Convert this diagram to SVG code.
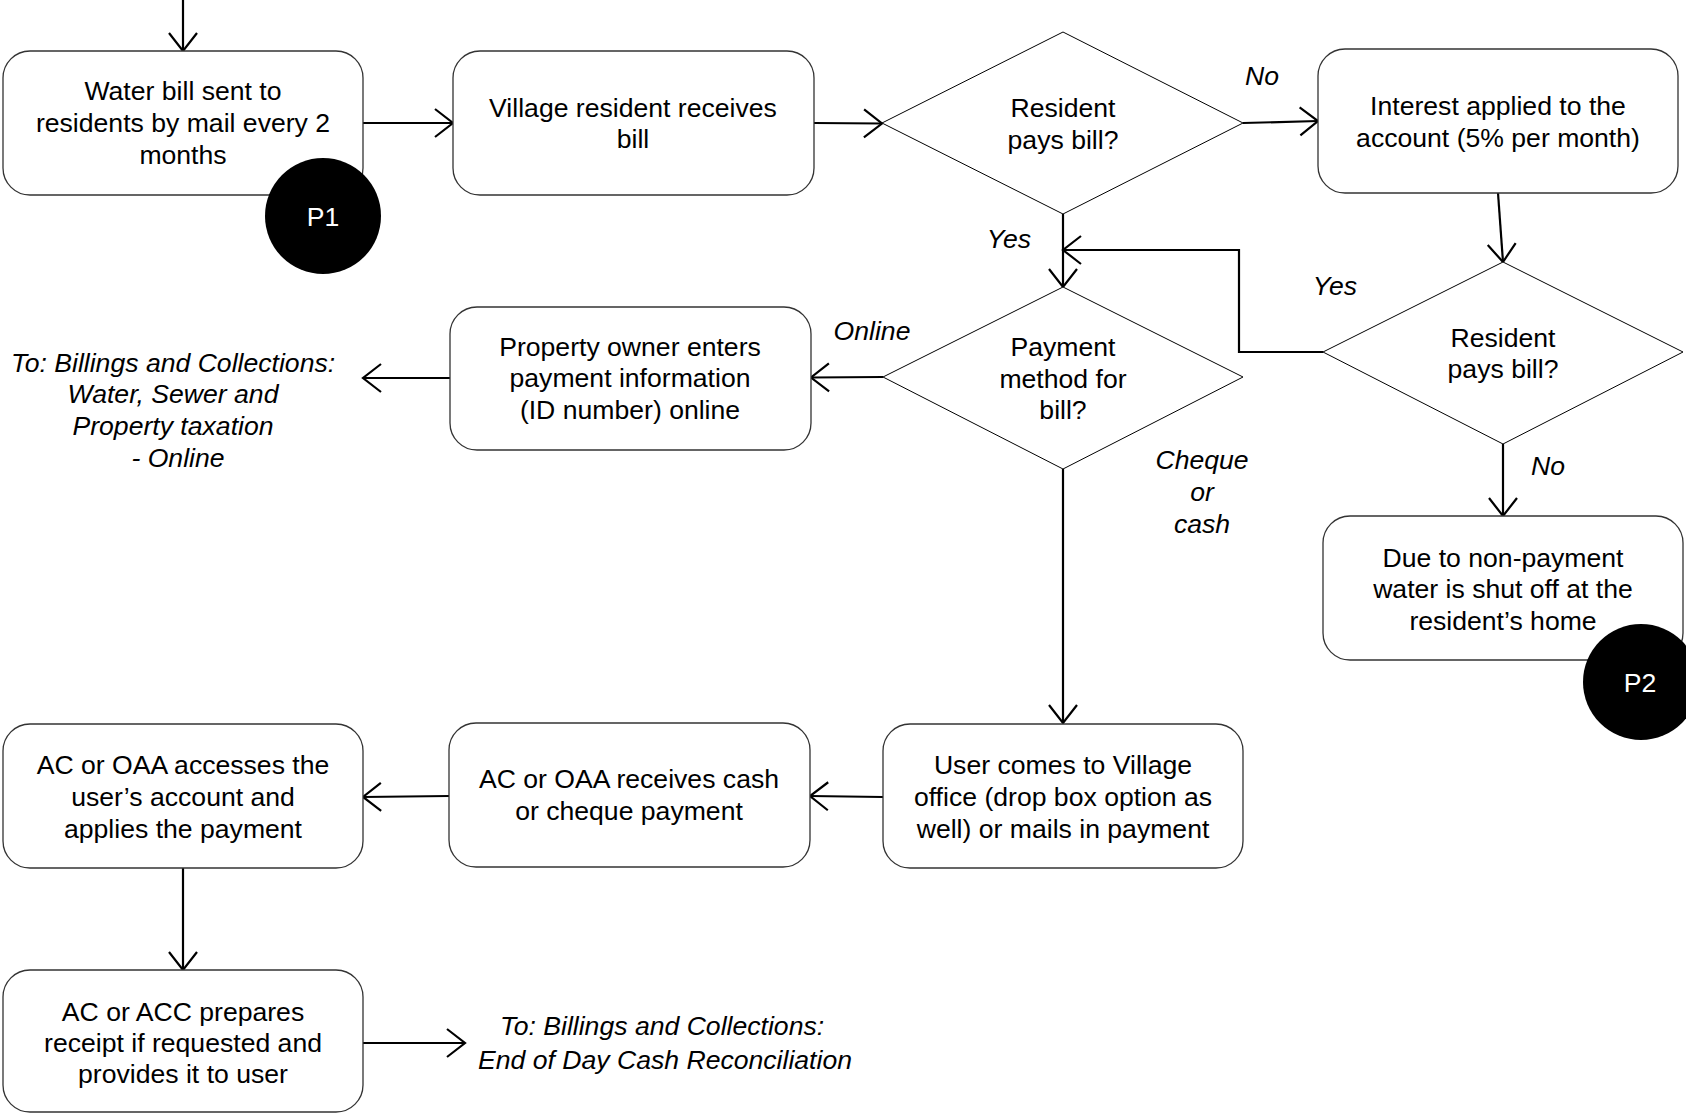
<svg xmlns="http://www.w3.org/2000/svg" width="1686" height="1114" viewBox="0 0 1686 1114">
<style>
.box{fill:#fff;stroke:#333;stroke-width:1.3}
.dia{fill:#fff;stroke:#000;stroke-width:1}
.t{font-family:"Liberation Sans",Arial,sans-serif;font-size:26.6px;fill:#000;text-anchor:middle}
.lbl{font-family:"Liberation Sans",Arial,sans-serif;font-size:26.6px;font-style:italic;fill:#000;text-anchor:middle}
.c{fill:none;stroke:#000;stroke-width:2.2;marker-end:url(#arr)}
.pc{fill:#000}
.pt{font-family:"Liberation Sans",Arial,sans-serif;font-size:26.6px;fill:#fff;text-anchor:middle}
</style>
<defs>
<marker id="arr" markerUnits="userSpaceOnUse" viewBox="-21 -16 23 32" markerWidth="23" markerHeight="32" refX="0" refY="0" orient="auto">
<path d="M-18,-14 L0,0 L-18,14" fill="none" stroke="#000" stroke-width="2.2"/>
</marker>
</defs>
<rect width="1686" height="1114" fill="#fff"/>

<g id="connectors">
<path class="c" d="M183,0 L183,51"/>
<path class="c" d="M363,123 L453,123"/>
<path class="c" d="M814,123 L882,123.5"/>
<path class="c" d="M1243,123 L1318,121"/>
<path class="c" d="M1063,214 L1063,287"/>
<path class="c" d="M1498,193 L1503,262"/>
<path class="c" d="M1323,352 L1239,352 L1239,250 L1063,250"/>
<path class="c" d="M1503,444 L1503,516"/>
<path class="c" d="M883,377 L811,377.5"/>
<path class="c" d="M450,378 L363,378"/>
<path class="c" d="M1063,469 L1063,723"/>
<path class="c" d="M883,797 L810,796"/>
<path class="c" d="M449,796 L363,797"/>
<path class="c" d="M183,868 L183,970"/>
<path class="c" d="M363,1043 L465,1043"/>
</g>

<g id="n1">
<rect class="box" x="3" y="51" width="360" height="144" rx="27"/>
<text class="t" x="183" y="100">Water bill sent to</text>
<text class="t" x="183" y="132">residents by mail every 2</text>
<text class="t" x="183" y="164">months</text>
</g>
<g id="p1">
<circle class="pc" cx="323" cy="216" r="58"/>
<text class="pt" x="323" y="226">P1</text>
</g>

<g id="n2">
<rect class="box" x="453" y="51" width="361" height="144" rx="27"/>
<text class="t" x="633" y="117">Village resident receives</text>
<text class="t" x="633" y="148">bill</text>
</g>

<g id="d1">
<polygon class="dia" points="1063,32 1243,123 1063,214 882,123"/>
<text class="t" x="1063" y="117">Resident</text>
<text class="t" x="1063" y="149">pays bill?</text>
</g>

<g id="n3">
<rect class="box" x="1318" y="49" width="360" height="144" rx="27"/>
<text class="t" x="1498" y="115">Interest applied to the</text>
<text class="t" x="1498" y="147">account (5% per month)</text>
</g>

<g id="d3">
<polygon class="dia" points="1503,262 1683,352 1503,444 1323,352"/>
<text class="t" x="1503" y="347">Resident</text>
<text class="t" x="1503" y="378">pays bill?</text>
</g>

<g id="n4">
<rect class="box" x="1323" y="516" width="360" height="144" rx="27"/>
<text class="t" x="1503" y="567">Due to non-payment</text>
<text class="t" x="1503" y="598">water is shut off at the</text>
<text class="t" x="1503" y="630">resident’s home</text>
</g>
<g id="p2">
<circle class="pc" cx="1641" cy="682" r="58"/>
<text class="pt" x="1640" y="692">P2</text>
</g>

<g id="d2">
<polygon class="dia" points="1063,287 1243,377 1063,469 883,377"/>
<text class="t" x="1063" y="356">Payment</text>
<text class="t" x="1063" y="388">method for</text>
<text class="t" x="1063" y="419">bill?</text>
</g>

<g id="n5">
<rect class="box" x="450" y="307" width="361" height="143" rx="27"/>
<text class="t" x="630" y="356">Property owner enters</text>
<text class="t" x="630" y="387">payment information</text>
<text class="t" x="630" y="419">(ID number) online</text>
</g>

<g id="out1">
<text class="lbl" x="173" y="372">To: Billings and Collections:</text>
<text class="lbl" x="173" y="403">Water, Sewer and</text>
<text class="lbl" x="173" y="435">Property taxation</text>
<text class="lbl" x="178" y="467">- Online</text>
</g>

<g id="n6">
<rect class="box" x="883" y="724" width="360" height="144" rx="27"/>
<text class="t" x="1063" y="774">User comes to Village</text>
<text class="t" x="1063" y="806">office (drop box option as</text>
<text class="t" x="1063" y="838">well) or mails in payment</text>
</g>

<g id="n7">
<rect class="box" x="449" y="723" width="361" height="144" rx="27"/>
<text class="t" x="629" y="788">AC or OAA receives cash</text>
<text class="t" x="629" y="820">or cheque payment</text>
</g>

<g id="n8">
<rect class="box" x="3" y="724" width="360" height="144" rx="27"/>
<text class="t" x="183" y="774">AC or OAA accesses the</text>
<text class="t" x="183" y="806">user’s account and</text>
<text class="t" x="183" y="838">applies the payment</text>
</g>

<g id="n9">
<rect class="box" x="3" y="970" width="360" height="142" rx="27"/>
<text class="t" x="183" y="1021">AC or ACC prepares</text>
<text class="t" x="183" y="1052">receipt if requested and</text>
<text class="t" x="183" y="1083">provides it to user</text>
</g>

<g id="out2">
<text class="lbl" x="662" y="1035">To: Billings and Collections:</text>
<text class="lbl" x="665" y="1069">End of Day Cash Reconciliation</text>
</g>

<g id="labels">
<text class="lbl" x="1262" y="85">No</text>
<text class="lbl" x="1009" y="248">Yes</text>
<text class="lbl" x="1335" y="295">Yes</text>
<text class="lbl" x="1548" y="475">No</text>
<text class="lbl" x="872" y="340">Online</text>
<text class="lbl" x="1202" y="469">Cheque</text>
<text class="lbl" x="1202" y="501">or</text>
<text class="lbl" x="1202" y="533">cash</text>
</g>
</svg>
